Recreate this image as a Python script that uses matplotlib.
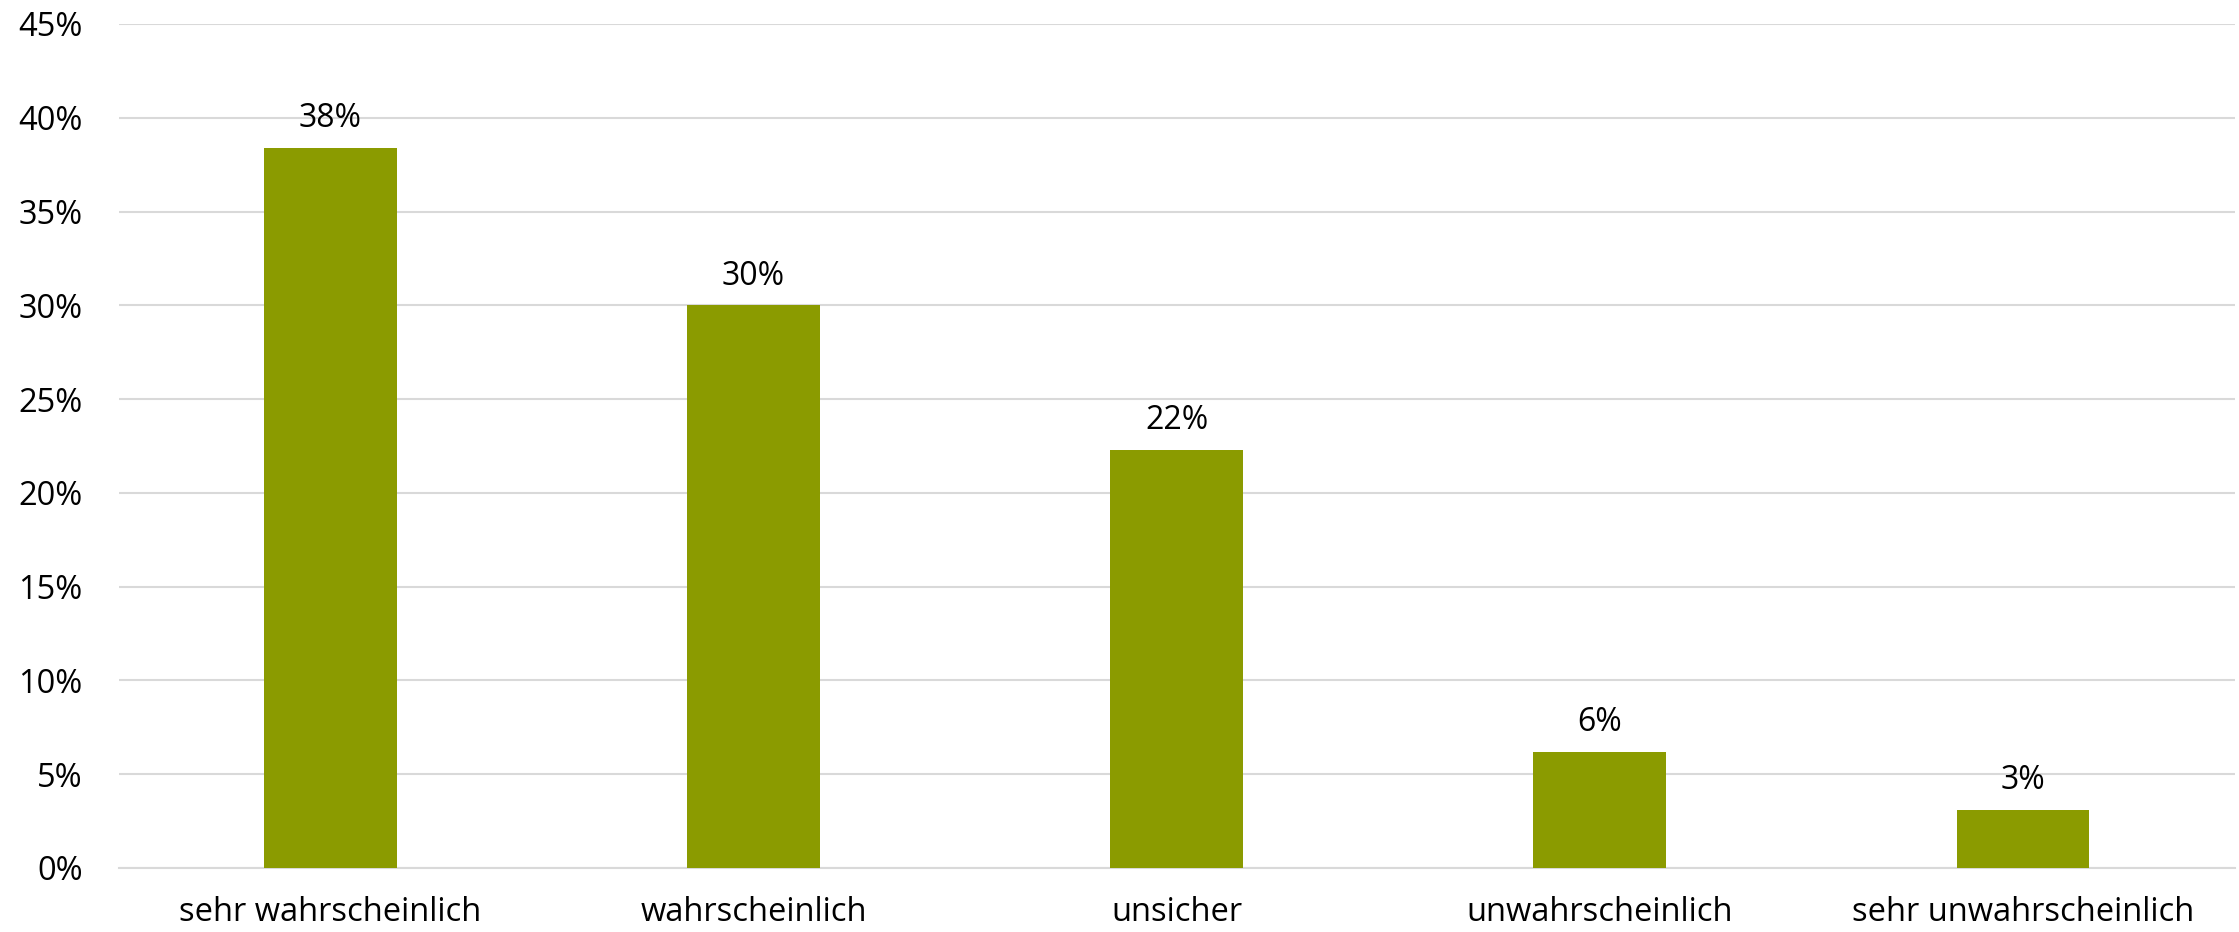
import matplotlib.pyplot as plt
from matplotlib.ticker import MultipleLocator, FuncFormatter

categories = ['sehr wahrscheinlich', 'wahrscheinlich', 'unsicher',
              'unwahrscheinlich', 'sehr unwahrscheinlich']
values = [38.4, 30.0, 22.3, 6.2, 3.1]
labels = ['38%', '30%', '22%', '6%', '3%']

plt.rcParams['font.family'] = ['Open Sans', 'DejaVu Sans']

fig = plt.figure(figsize=(22.39, 9.32), dpi=100)
ax = fig.add_axes([0.0531, 0.0687, 0.9449, 0.9056])

x = range(len(categories))
bars = ax.bar(x, values, width=0.314, color='#8B9B00', zorder=3)

for b, lab in zip(bars, labels):
    ax.annotate(lab, (b.get_x() + b.get_width() / 2, b.get_height()),
                xytext=(0, 9), textcoords='offset points',
                ha='center', va='bottom', fontsize=23, color='black')

ax.set_xlim(-0.5, len(categories) - 0.5)
ax.set_ylim(0, 45)
ax.yaxis.set_major_locator(MultipleLocator(5))
ax.yaxis.set_major_formatter(FuncFormatter(lambda v, p: f'{v:.0f}%'))
ax.set_xticks(list(x))
ax.set_xticklabels(categories)

ax.grid(axis='y', color='#d9d9d9', linewidth=1.5, zorder=0)
for s in ['top', 'right', 'left']:
    ax.spines[s].set_visible(False)
ax.spines['bottom'].set_color('#d9d9d9')
ax.spines['bottom'].set_linewidth(1.5)

ax.tick_params(axis='y', length=0, pad=26, labelsize=23.5)
ax.tick_params(axis='x', length=0, pad=20, labelsize=23.5)

fig.savefig('out.png', dpi=100)
